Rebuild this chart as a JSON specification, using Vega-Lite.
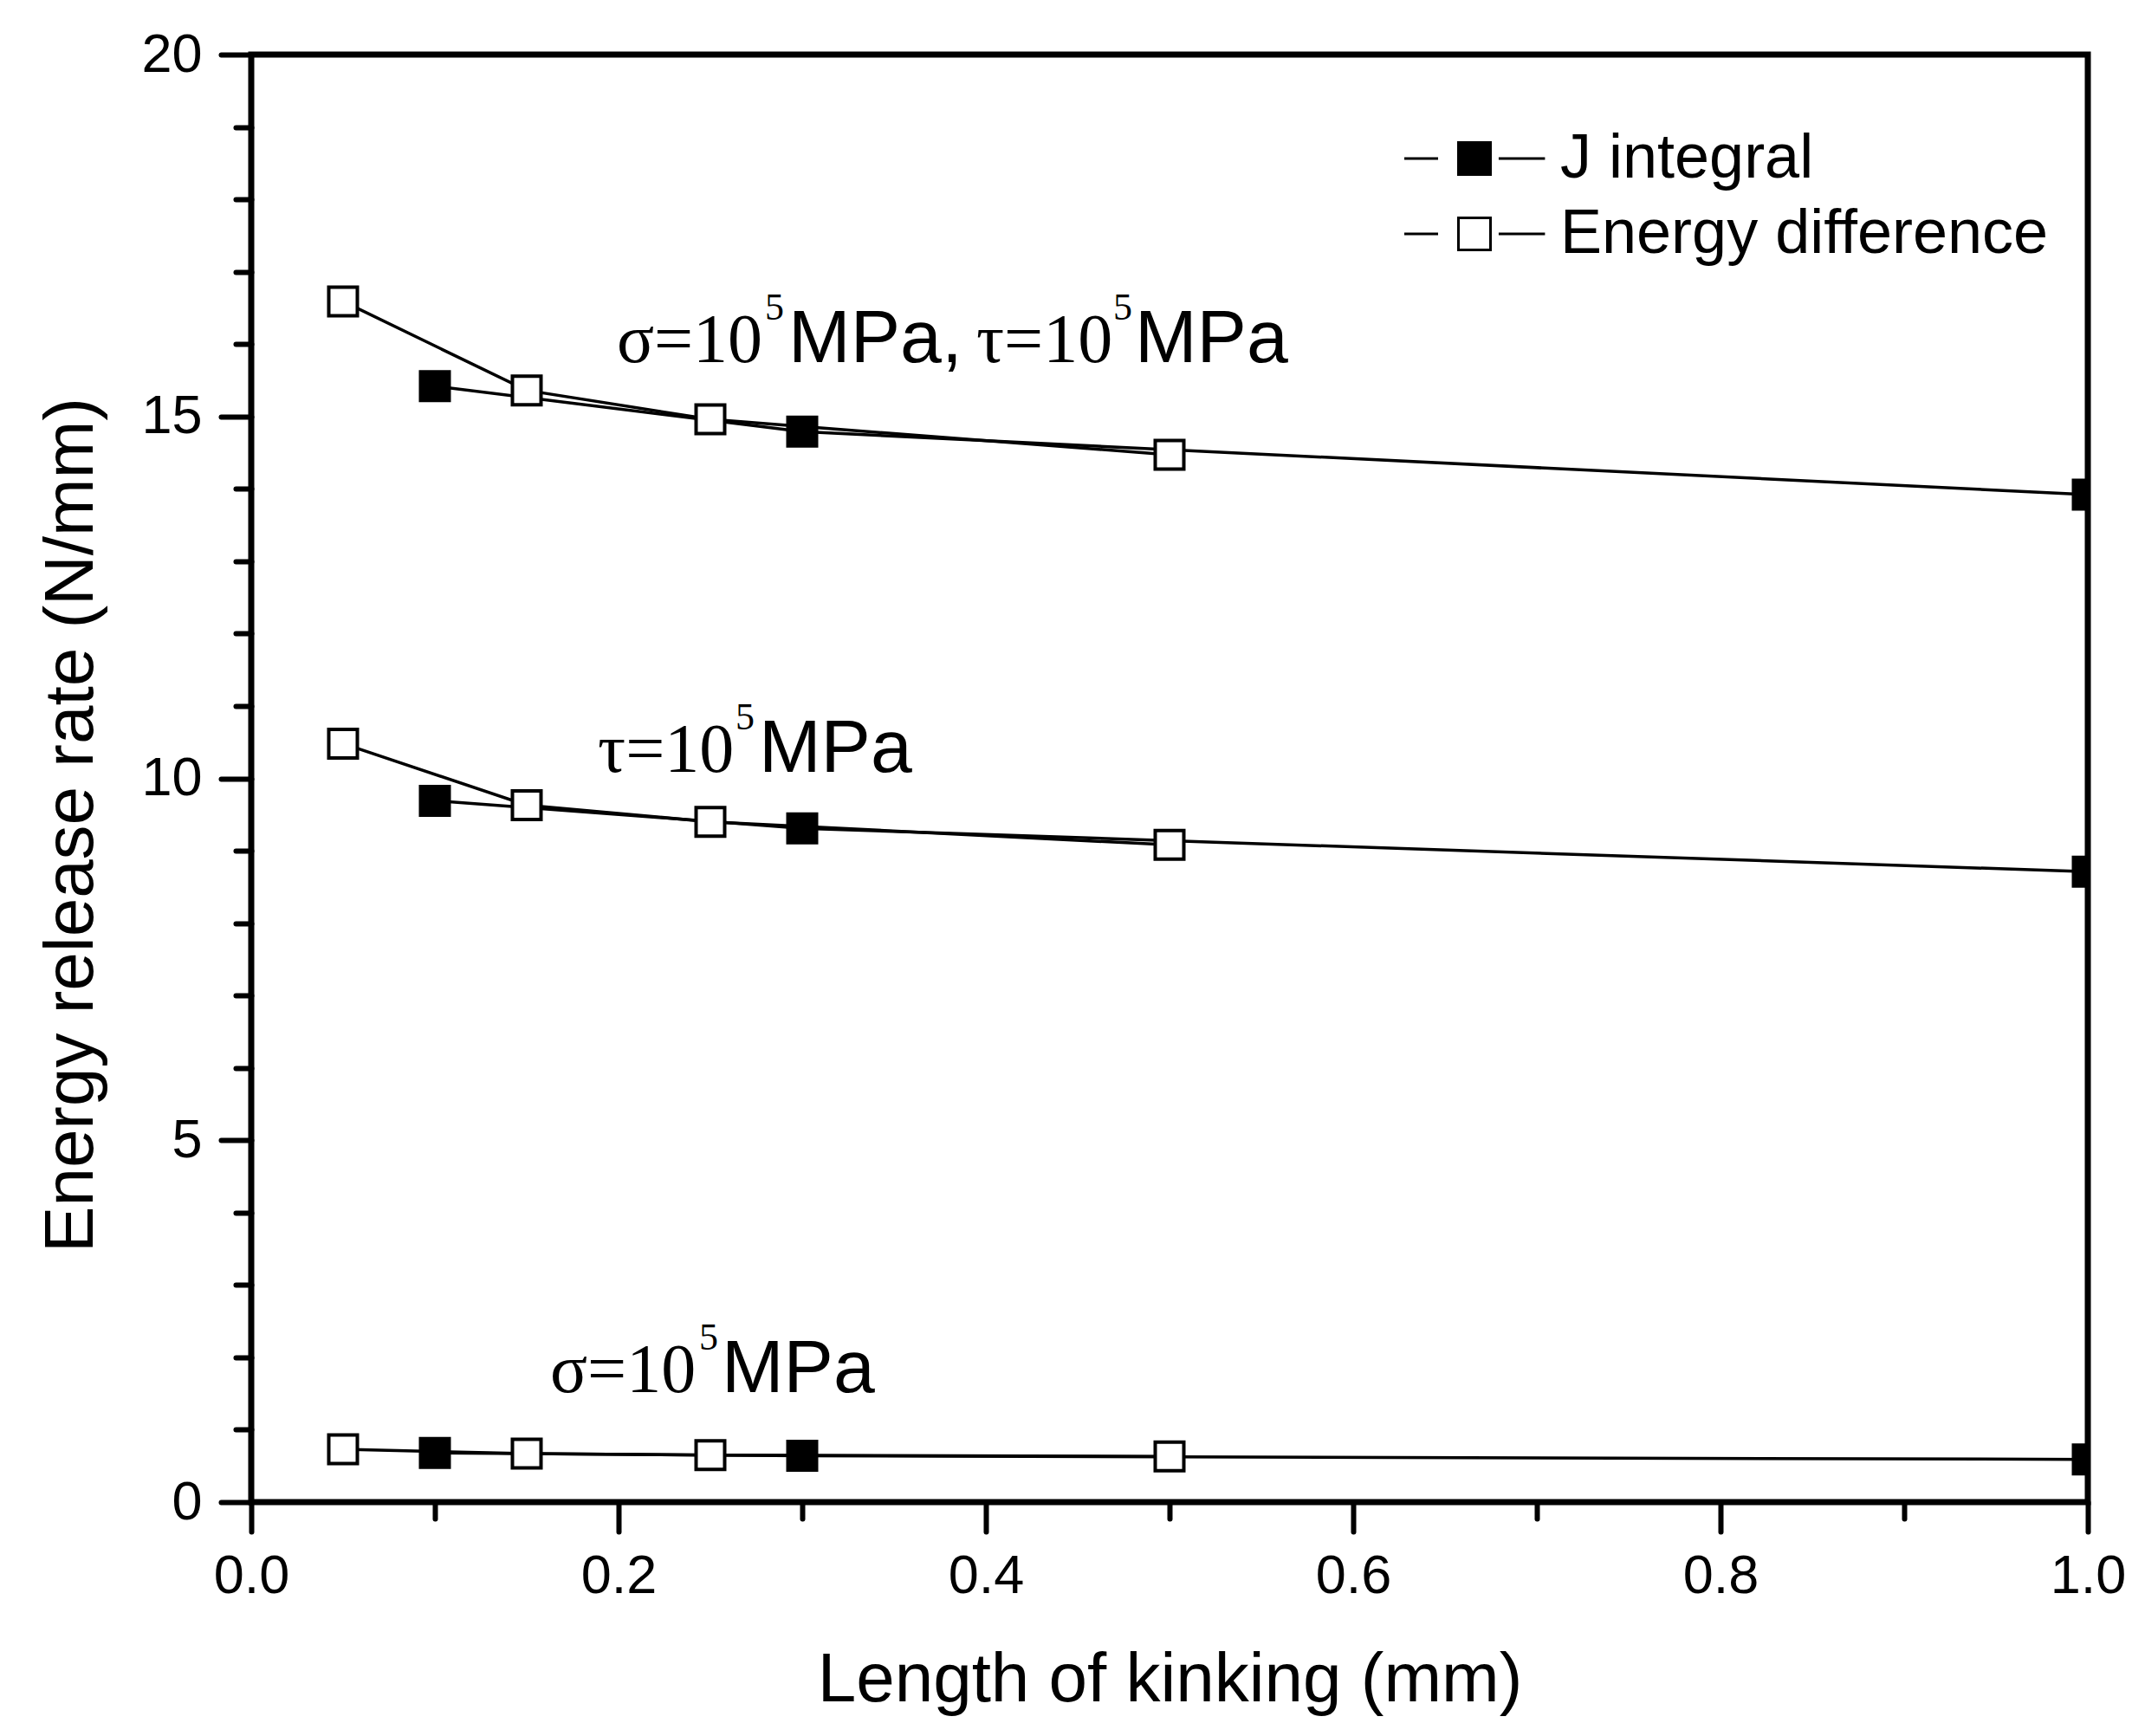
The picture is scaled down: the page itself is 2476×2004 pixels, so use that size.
{
  "$schema": "https://vega.github.io/schema/vega-lite/v6.json",
  "width": 2120,
  "height": 1671,
  "autosize": {"type": "none"},
  "padding": {"left": 290, "top": 63, "right": 66, "bottom": 270},
  "background": "white",
  "config": {
    "view": {"stroke": "black", "strokeWidth": 7},
    "axis": {
      "grid": false,
      "domain": false,
      "tickColor": "black",
      "tickWidth": 6,
      "tickCap": "round",
      "labelColor": "black",
      "labelFont": "Liberation Sans",
      "labelFontSize": 63,
      "labelFlush": false,
      "labelOverlap": false,
      "titleColor": "black",
      "titleFont": "Liberation Sans",
      "titleFontSize": 80,
      "titleFontWeight": "normal"
    }
  },
  "datasets": {
    "curves": [
      {"load": "sigma_tau", "method": "J integral", "length": 0.1, "rate": 15.42},
      {"load": "sigma_tau", "method": "J integral", "length": 0.3, "rate": 14.79},
      {"load": "sigma_tau", "method": "J integral", "length": 1.0, "rate": 13.92},
      {"load": "sigma_tau", "method": "Energy difference", "length": 0.05, "rate": 16.59},
      {"load": "sigma_tau", "method": "Energy difference", "length": 0.15, "rate": 15.36},
      {"load": "sigma_tau", "method": "Energy difference", "length": 0.25, "rate": 14.96},
      {"load": "sigma_tau", "method": "Energy difference", "length": 0.5, "rate": 14.47},
      {"load": "tau", "method": "J integral", "length": 0.1, "rate": 9.69},
      {"load": "tau", "method": "J integral", "length": 0.3, "rate": 9.31},
      {"load": "tau", "method": "J integral", "length": 1.0, "rate": 8.71},
      {"load": "tau", "method": "Energy difference", "length": 0.05, "rate": 10.48},
      {"load": "tau", "method": "Energy difference", "length": 0.15, "rate": 9.63},
      {"load": "tau", "method": "Energy difference", "length": 0.25, "rate": 9.40},
      {"load": "tau", "method": "Energy difference", "length": 0.5, "rate": 9.08},
      {"load": "sigma", "method": "J integral", "length": 0.1, "rate": 0.68},
      {"load": "sigma", "method": "J integral", "length": 0.3, "rate": 0.64},
      {"load": "sigma", "method": "J integral", "length": 1.0, "rate": 0.59},
      {"load": "sigma", "method": "Energy difference", "length": 0.05, "rate": 0.73},
      {"load": "sigma", "method": "Energy difference", "length": 0.15, "rate": 0.67},
      {"load": "sigma", "method": "Energy difference", "length": 0.25, "rate": 0.65},
      {"load": "sigma", "method": "Energy difference", "length": 0.5, "rate": 0.63}
    ],
    "serif": [
      {"x": 0.199, "y": 15.75, "t": "σ=10"},
      {"x": 0.3948, "y": 15.75, "t": "τ=10"},
      {"x": 0.1887, "y": 10.09, "t": "τ=10"},
      {"x": 0.1627, "y": 1.52, "t": "σ=10"}
    ],
    "sup": [
      {"x": 0.2797, "y": 16.34, "t": "5"},
      {"x": 0.4693, "y": 16.34, "t": "5"},
      {"x": 0.2637, "y": 10.68, "t": "5"},
      {"x": 0.2439, "y": 2.11, "t": "5"}
    ],
    "sans": [
      {"x": 0.2925, "y": 15.75, "t": "MPa,"},
      {"x": 0.4811, "y": 15.75, "t": "MPa"},
      {"x": 0.2764, "y": 10.09, "t": "MPa"},
      {"x": 0.2561, "y": 1.52, "t": "MPa"}
    ]
  },
  "resolve": {"axis": {"x": "independent", "y": "independent"}},
  "layer": [
    {
      "data": {"name": "curves"},
      "mark": {"type": "line", "color": "black", "strokeWidth": 3.5, "clip": true},
      "encoding": {
        "x": {
          "field": "length", "type": "quantitative",
          "scale": {"domain": [0, 1], "nice": false},
          "axis": {"orient": "bottom", "values": [0.1, 0.3, 0.5, 0.7, 0.9], "tickSize": 19, "labels": false, "title": null}
        },
        "y": {
          "field": "rate", "type": "quantitative",
          "scale": {"domain": [0, 20], "nice": false},
          "axis": {"orient": "left", "values": [1, 2, 3, 4, 6, 7, 8, 9, 11, 12, 13, 14, 16, 17, 18, 19], "tickSize": 18, "labels": false, "title": null}
        },
        "detail": [{"field": "load"}, {"field": "method"}]
      }
    },
    {
      "data": {"name": "curves"},
      "mark": {"type": "point", "shape": "square", "filled": true, "opacity": 1, "size": 1089, "stroke": "black", "strokeWidth": 4, "clip": true},
      "encoding": {
        "x": {
          "field": "length", "type": "quantitative",
          "axis": {
            "orient": "bottom", "values": [0, 0.2, 0.4, 0.6, 0.8, 1.0], "format": ".1f",
            "tickSize": 34, "labelPadding": 20,
            "title": "Length of kinking (mm)", "titleX": 1060, "titleY": 229,
            "titleAlign": "center", "titleBaseline": "alphabetic"
          }
        },
        "y": {
          "field": "rate", "type": "quantitative",
          "axis": {
            "orient": "left", "values": [0, 5, 10, 15, 20],
            "tickSize": 35, "labelPadding": 22,
            "title": "Energy release rate (N/mm)", "titleX": -184, "titleY": 889,
            "titleAngle": -90, "titleAlign": "center", "titleBaseline": "alphabetic"
          }
        },
        "fill": {
          "field": "method", "type": "nominal",
          "scale": {"domain": ["J integral", "Energy difference"], "range": ["black", "white"]},
          "legend": {
            "title": null,
            "orient": "none",
            "legendX": 1376,
            "legendY": 84,
            "padding": 0,
            "symbolType": "M-4.38,0H-2.27M1.51,0H4.4M-1,-1H1V1H-1Z",
            "symbolSize": 1369,
            "symbolStrokeColor": "black",
            "symbolStrokeWidth": 3,
            "labelFont": "Liberation Sans",
            "labelFontSize": 72,
            "labelColor": "black",
            "labelOffset": 63,
            "labelLimit": 1000,
            "rowPadding": 15
          }
        }
      }
    },
    {
      "data": {"name": "serif"},
      "mark": {"type": "text", "font": "Liberation Serif", "fontSize": 80, "align": "left", "baseline": "alphabetic", "color": "black"},
      "encoding": {
        "x": {"field": "x", "type": "quantitative", "axis": null},
        "y": {"field": "y", "type": "quantitative", "axis": null},
        "text": {"field": "t"}
      }
    },
    {
      "data": {"name": "sup"},
      "mark": {"type": "text", "font": "Liberation Serif", "fontSize": 44, "align": "left", "baseline": "alphabetic", "color": "black"},
      "encoding": {
        "x": {"field": "x", "type": "quantitative", "axis": null},
        "y": {"field": "y", "type": "quantitative", "axis": null},
        "text": {"field": "t"}
      }
    },
    {
      "data": {"name": "sans"},
      "mark": {"type": "text", "font": "Liberation Sans", "fontSize": 86, "align": "left", "baseline": "alphabetic", "color": "black"},
      "encoding": {
        "x": {"field": "x", "type": "quantitative", "axis": null},
        "y": {"field": "y", "type": "quantitative", "axis": null},
        "text": {"field": "t"}
      }
    }
  ]
}
